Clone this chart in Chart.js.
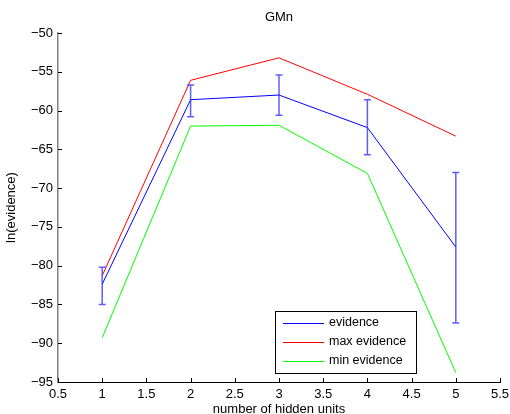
<!DOCTYPE html>
<html>
<head>
<meta charset="utf-8">
<script src="https://cdn.jsdelivr.net/npm/chart.js@4/dist/chart.umd.min.js"></script>
<style>
  html, body { margin: 0; padding: 0; background: #fff; }
  #wrap { width: 510px; height: 414px; }
</style>
</head>
<body>
<div id="wrap"><canvas id="chart" width="510" height="414"></canvas></div>
<script>
const hiddenUnits = [1, 2, 3, 4, 5]
const evidence = [-82.4, -58.6, -58.0, -62.2, -77.6]
const maxEvidence = [-81.3, -56.1, -53.2, -57.9, -63.3]
const minEvidence = [-89.3, -62.0, -61.9, -68.1, -93.8]
const errLow = [-85.0, -60.8, -60.6, -65.7, -87.4]
const errHigh = [-80.2, -56.7, -55.4, -58.6, -68.0]

const FONT = 'Liberation Sans, Arial, Helvetica, sans-serif'

// barras de error sobre la serie "evidence"
const errorBars = {
  id: 'errorBars',
  afterDatasetsDraw(chart) {
    const { ctx, scales: { x, y } } = chart
    ctx.save()
    ctx.strokeStyle = 'rgba(40,40,255,0.75)'
    ctx.lineWidth = 1.5
    hiddenUnits.forEach((u, i) => {
      const px = x.getPixelForValue(u)
      const top = y.getPixelForValue(errHigh[i])
      const bot = y.getPixelForValue(errLow[i])
      ctx.beginPath()
      ctx.moveTo(px, top); ctx.lineTo(px, bot)
      ctx.moveTo(px - 3.5, top); ctx.lineTo(px + 3.5, top)
      ctx.moveTo(px - 3.5, bot); ctx.lineTo(px + 3.5, bot)
      ctx.stroke()
    })
    ctx.restore()
  },
}

// marcas de los ejes hacia dentro, estilo MATLAB
const innerTicks = {
  id: 'innerTicks',
  afterDraw(chart) {
    const { ctx, chartArea: a, scales: { x, y } } = chart
    ctx.save()
    ctx.strokeStyle = '#000'
    ctx.lineWidth = 1
    ctx.beginPath()
    x.ticks.forEach(t => {
      const px = Math.round(x.getPixelForValue(t.value)) + 0.5
      ctx.moveTo(px, a.bottom); ctx.lineTo(px, a.bottom - 4)
    })
    y.ticks.forEach(t => {
      const py = Math.round(y.getPixelForValue(t.value)) + 0.5
      ctx.moveTo(a.left, py); ctx.lineTo(a.left + 4, py)
    })
    ctx.stroke()
    ctx.restore()
  },
}

// leyenda en caja dentro del área del gráfico
const boxLegend = {
  id: 'boxLegend',
  afterDraw(chart) {
    const { ctx, chartArea: a } = chart
    const left = a.left + 217
    const top = a.bottom - 71
    const w = 141
    const h = 62
    ctx.save()
    ctx.fillStyle = '#fff'
    ctx.fillRect(left, top, w, h)
    ctx.strokeStyle = '#000'
    ctx.lineWidth = 1
    ctx.strokeRect(left + 0.5, top + 0.5, w, h)
    ctx.font = '12.5px ' + FONT
    ctx.textBaseline = 'middle'
    chart.data.datasets.forEach((ds, i) => {
      const cy = top + 12 + i * 19
      ctx.strokeStyle = ds.borderColor
      ctx.beginPath()
      ctx.moveTo(left + 8, cy + 0.5); ctx.lineTo(left + 49, cy + 0.5)
      ctx.stroke()
      ctx.fillStyle = '#000'
      ctx.fillText(ds.label, left + 54, cy)
    })
    ctx.restore()
  },
}

const ctx = document.getElementById('chart').getContext('2d')

const line = (label, data, color) => ({
  label,
  data,
  borderColor: color,
  backgroundColor: color,
  borderWidth: 1,
  pointRadius: 0,
  tension: 0,
  fill: false,
})

new Chart(ctx, {
  type: 'line',
  data: {
    labels: hiddenUnits,
    datasets: [
      line('evidence', hiddenUnits.map((u, i) => ({ x: u, y: evidence[i] })), '#0000ff'),
      line('max evidence', hiddenUnits.map((u, i) => ({ x: u, y: maxEvidence[i] })), '#ff0000'),
      line('min evidence', hiddenUnits.map((u, i) => ({ x: u, y: minEvidence[i] })), '#00ff00'),
    ],
  },
  options: {
    responsive: false,
    animation: false,
    layout: { padding: { left: 0, right: 10, top: 0, bottom: 0 } },
    plugins: {
      legend: { display: false },
      tooltip: { enabled: false },
      title: {
        display: true,
        text: 'GMn',
        fullSize: false,
        color: '#000',
        font: { family: FONT, size: 13, weight: 'normal' },
        padding: { top: 10, bottom: 7.4 },
      },
    },
    scales: {
      x: {
        type: 'linear',
        min: 0.5,
        max: 5.5,
        ticks: {
          stepSize: 0.5,
          color: '#000',
          padding: 5,
          maxRotation: 0,
          autoSkip: false,
          font: { family: FONT, size: 13 },
          callback: v => String(v),
        },
        grid: { drawOnChartArea: false, drawTicks: false },
        border: { display: true, color: '#000', width: 1 },
        title: {
          display: true,
          text: 'number of hidden units',
          color: '#000',
          font: { family: FONT, size: 13 },
          padding: { top: 0, bottom: -3 },
        },
        afterFit: s => {
          s.height = 32
          s.paddingLeft = 0
          s.paddingRight = 0
        },
      },
      y: {
        type: 'linear',
        min: -95,
        max: -50,
        ticks: {
          stepSize: 5,
          color: '#000',
          padding: 5,
          autoSkip: false,
          font: { family: FONT, size: 13 },
          callback: v => String(v).replace('-', '\u2212'),
        },
        grid: { drawOnChartArea: false, drawTicks: false },
        border: { display: true, color: '#808080', width: 1.5 },
        title: {
          display: true,
          text: 'ln(evidence)',
          color: '#000',
          font: { family: FONT, size: 13 },
          padding: { top: 4, bottom: 0 },
        },
        afterFit: s => {
          s.width = 58
          s.paddingTop = 0
          s.paddingBottom = 0
        },
      },
    },
  },
  plugins: [errorBars, innerTicks, boxLegend],
})
</script>
</body>
</html>
